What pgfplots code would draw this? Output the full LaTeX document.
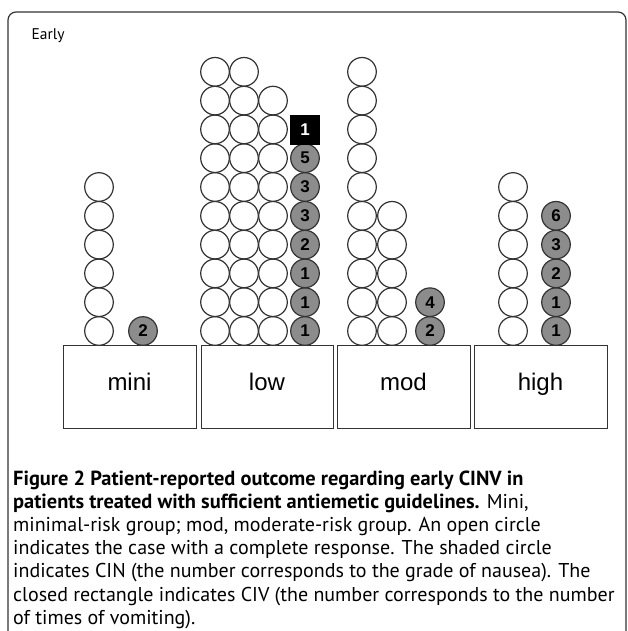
\documentclass[border=0pt]{standalone}
\usepackage{fontspec}
\setmainfont{PT Sans}
\newfontfamily\arial{Liberation Sans}
\usepackage{pgfplots}
\pgfplotsset{compat=1.18}
\usepackage{pgfplotstable}

% open circles: x position (px), row index from bottom
\pgfplotstableread{
x row
99 0
99 1
99 2
99 3
99 4
99 5
215 0
215 1
215 2
215 3
215 4
215 5
215 6
215 7
215 8
215 9
244 0
244 1
244 2
244 3
244 4
244 5
244 6
244 7
244 8
244 9
273 0
273 1
273 2
273 3
273 4
273 5
273 6
273 7
273 8
362 0
362 1
362 2
362 3
362 4
362 5
362 6
362 7
362 8
362 9
392 0
392 1
392 2
392 3
392 4
513 0
513 1
513 2
513 3
513 4
513 5
}\opencirc

% shaded circles (CIN): grade of nausea
\pgfplotstableread{
x row grade
143 0 2
305 0 1
305 1 1
305 2 1
305 3 2
305 4 3
305 5 3
305 6 5
430 0 2
430 1 4
556 0 1
556 1 1
556 2 2
556 3 3
556 4 6
}\shadedcirc

% closed rectangle (CIV): number of vomiting
\pgfplotstableread{
x row times
305 7 1
}\civ

\definecolor{shade}{HTML}{8C8C8C}
\definecolor{edge}{HTML}{333333}

\begin{document}
\begin{tikzpicture}
\begin{axis}[x=1pt, y=1pt, xmin=0, xmax=627, ymin=0, ymax=631,
  y dir=reverse, hide axis, clip=false, anchor=south west, at={(0,0)}]

% frame
\draw[edge, line width=1.2pt, rounded corners=8pt]
  (axis cs:8,660) -- (axis cs:8,12) -- (axis cs:626,12) -- (axis cs:626,660);
\node[anchor=base west, font=\fontsize{15.5}{17}\selectfont] at (axis cs:28,40) {Early};

% group boxes
\draw[edge, line width=1pt] (axis cs:63,345) rectangle (axis cs:196,428);
\draw[edge, line width=1pt] (axis cs:201,345) rectangle (axis cs:333,428);
\draw[edge, line width=1pt] (axis cs:337,345) rectangle (axis cs:470,428);
\draw[edge, line width=1pt] (axis cs:474,345) rectangle (axis cs:607,428);
\begin{scope}[every node/.style={anchor=base, font=\arial\fontsize{24}{26}\selectfont}]
\node at (axis cs:129.5,390) {mini};
\node at (axis cs:267,390) {low};
\node at (axis cs:403.5,390) {mod};
\node at (axis cs:540.5,390) {high};
\end{scope}

\addplot[only marks, mark=*, mark size=14.3pt,
  mark options={draw=edge, fill=white, line width=1.2pt}]
  table[x=x, y expr=331-28.8*\thisrow{row}] {\opencirc};

\addplot[only marks, mark=*, mark size=14.3pt,
  mark options={draw=edge, fill=shade, line width=1.2pt},
  nodes near coords, point meta=explicit symbolic,
  nodes near coords align={center},
  every node near coord/.append style={anchor=center, inner sep=0pt,
    font=\arial\bfseries\fontsize{17}{18}\selectfont, text=black}]
  table[x=x, y expr=331-28.8*\thisrow{row}, meta=grade] {\shadedcirc};

\addplot[only marks, mark=square*, mark size=14.5pt,
  mark options={draw=black, fill=black},
  nodes near coords, point meta=explicit symbolic,
  nodes near coords align={center},
  every node near coord/.append style={anchor=center, inner sep=0pt,
    font=\arial\bfseries\fontsize{17}{18}\selectfont, text=white}]
  table[x=x, y expr=331-28.8*\thisrow{row}, meta=times] {\civ};

% caption
\begin{scope}[every node/.style={anchor=base west, inner sep=0pt, font=\fontsize{20}{22}\selectfont}]
\node at (axis cs:13,485) {\fontsize{20.4}{22}\selectfont\textbf{Figure 2 Patient-reported outcome regarding early CINV in}};
\node at (axis cs:13,508.2) {\fontsize{20.4}{22}\selectfont\textbf{patients treated with sufficient antiemetic guidelines.}\fontsize{20}{22}\selectfont{} Mini,};
\node at (axis cs:13,531.4) {minimal-risk group; mod, moderate-risk group. An open circle};
\node at (axis cs:13,554.6) {indicates the case with a complete response. The shaded circle};
\node at (axis cs:13,577.8) {indicates CIN (the number corresponds to the grade of nausea). The};
\node at (axis cs:13,601) {closed rectangle indicates CIV (the number corresponds to the number};
\node at (axis cs:13,624) {of times of vomiting).};
\end{scope}
\end{axis}
\pgfresetboundingbox
\path (0,0) rectangle (627pt,631pt);
\end{tikzpicture}
\end{document}
